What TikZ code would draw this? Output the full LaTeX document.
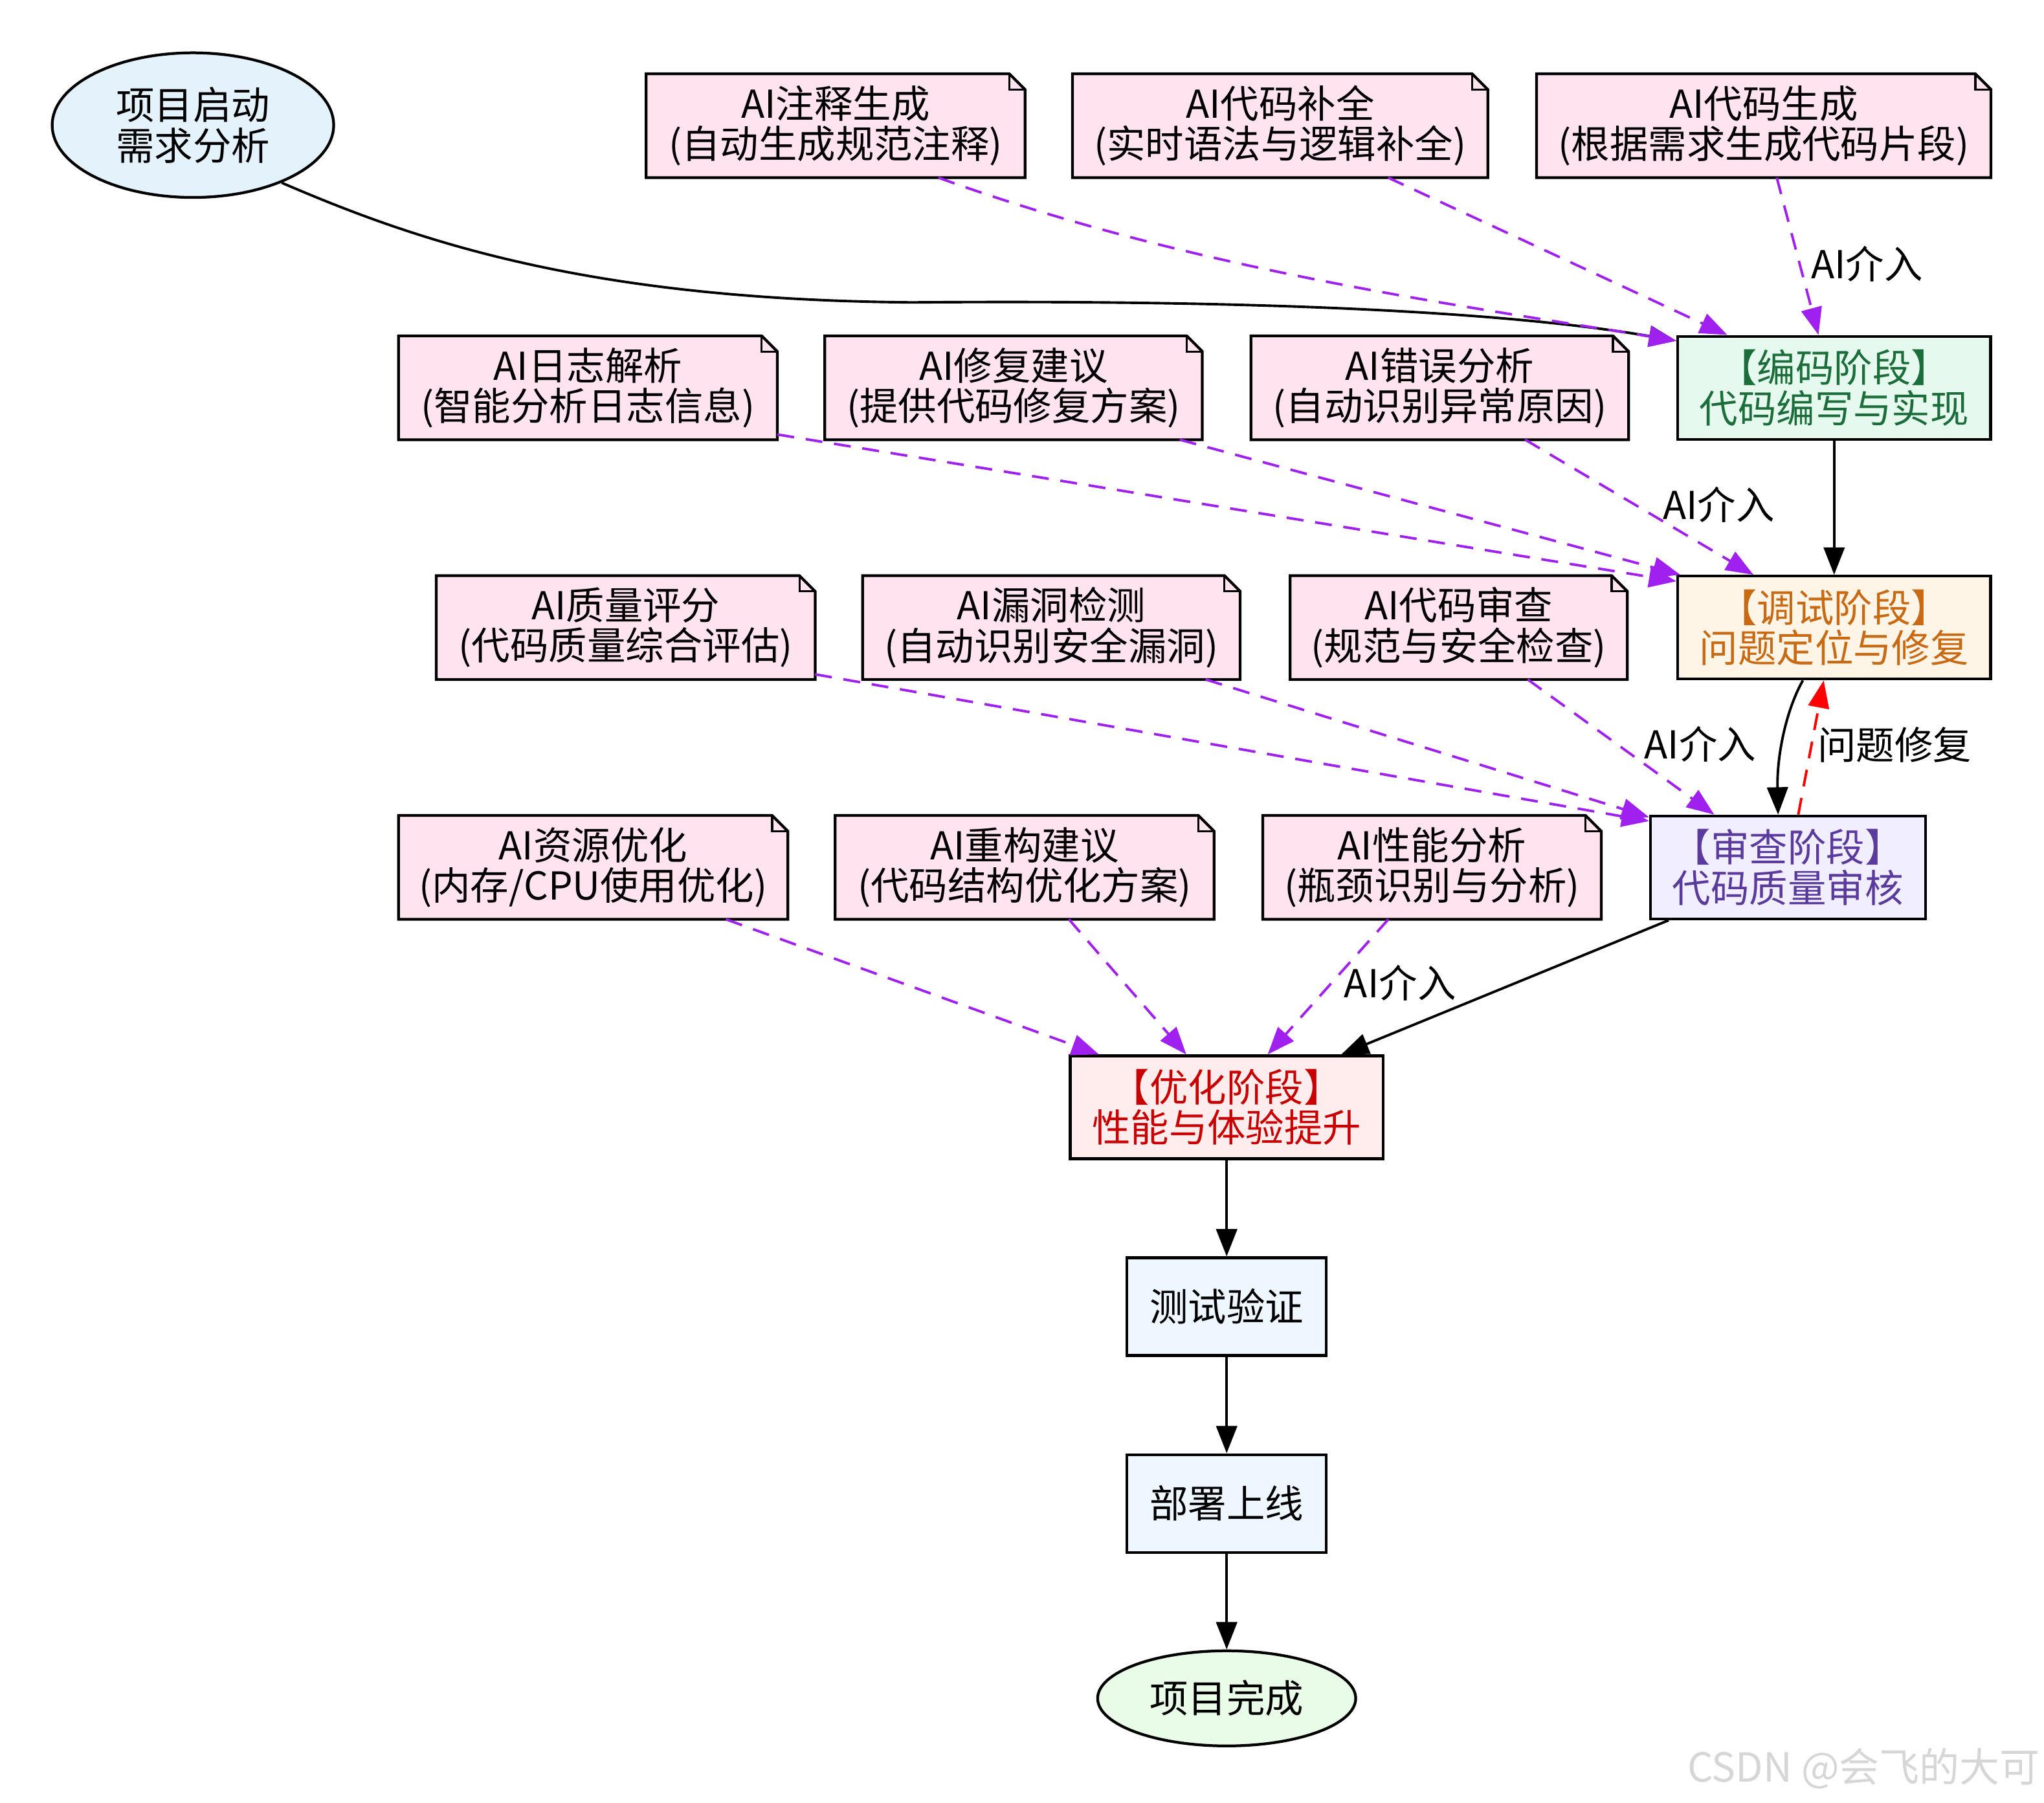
\documentclass[tikz,border=0pt]{standalone}
\usepackage{fontspec}
\setmainfont{Noto Sans CJK SC}
\usepackage{tikz}
\usetikzlibrary{arrows.meta,positioning,shapes.geometric}

\definecolor{notepink}{RGB}{255,228,240}
\definecolor{aipurple}{RGB}{160,32,240}
\definecolor{startblue}{RGB}{228,242,252}
\definecolor{donegreen}{RGB}{232,252,232}
\definecolor{stepfill}{RGB}{238,246,255}
\definecolor{codefill}{RGB}{230,249,238}
\definecolor{codetext}{RGB}{27,110,58}
\definecolor{debugfill}{RGB}{255,245,230}
\definecolor{debugtext}{RGB}{200,105,20}
\definecolor{reviewfill}{RGB}{240,238,255}
\definecolor{reviewtext}{RGB}{91,58,158}
\definecolor{optfill}{RGB}{255,236,236}
\definecolor{opttext}{RGB}{200,0,0}

\begin{document}
\begin{tikzpicture}[x=0.02cm,y=-0.02cm,>={Triangle[length=0.42cm,width=0.32cm]},
  every node/.style={font=\fontsize{16.8pt}{17.6pt}\selectfont,align=center},
  notebox/.style={fill=notepink,minimum width=#1,minimum height=1.58cm,inner sep=0pt},
  phase/.style={draw,line width=1.2pt,minimum width=#1,minimum height=1.58cm,inner sep=0pt},
  terminal/.style={ellipse,draw,line width=1.2pt,inner sep=0pt},
  flow/.style={->,line width=1.1pt},
  ai/.style={->,line width=1.1pt,draw=aipurple,dash pattern=on 0.26cm off 0.18cm},
  lbl/.style={anchor=west,inner sep=1pt,text=black}]
 \useasboundingbox (0,0) rectangle (1568,1383);
 % start and end
 \node[terminal,fill=startblue,minimum width=4.32cm,minimum height=2.22cm] (start) at (148,96) {项目启动\\需求分析};
 \node[terminal,fill=donegreen,minimum width=3.96cm,minimum height=1.46cm] (done) at (941,1303) {项目完成};
 % coding
 \node[notebox=5.8cm] (comm) at (641,96.5) {AI注释生成\\(自动生成规范注释)};
 \node[notebox=6.36cm] (comp) at (982,96.5) {AI代码补全\\(实时语法与逻辑补全)};
 \node[notebox=6.96cm] (gen) at (1353,96.5) {AI代码生成\\(根据需求生成代码片段)};
 \node[phase=4.8cm,fill=codefill,text=codetext] (code) at (1407,297.5) {【编码阶段】\\代码编写与实现};
 % debugging
 \node[notebox=5.8cm] (log) at (451,297.5) {AI日志解析\\(智能分析日志信息)};
 \node[notebox=5.78cm] (fix) at (777.5,297.5) {AI修复建议\\(提供代码修复方案)};
 \node[notebox=5.78cm] (err) at (1104.5,297.5) {AI错误分析\\(自动识别异常原因)};
 \node[phase=4.8cm,fill=debugfill,text=debugtext] (debug) at (1407,481.5) {【调试阶段】\\问题定位与修复};
 % review
 \node[notebox=5.8cm] (score) at (480,481.5) {AI质量评分\\(代码质量综合评估)};
 \node[notebox=5.78cm] (vuln) at (806.5,481.5) {AI漏洞检测\\(自动识别安全漏洞)};
 \node[notebox=5.16cm] (check) at (1119,481.5) {AI代码审查\\(规范与安全检查)};
 \node[phase=4.22cm,fill=reviewfill,text=reviewtext] (review) at (1371.5,665.5) {【审查阶段】\\代码质量审核};
 % optimising
 \node[notebox=5.96cm] (res) at (455,665.5) {AI资源优化\\(内存/CPU使用优化)};
 \node[notebox=5.8cm] (refac) at (786,665.5) {AI重构建议\\(代码结构优化方案)};
 \node[notebox=5.18cm] (perf) at (1098.5,665.5) {AI性能分析\\(瓶颈识别与分析)};
 \node[phase=4.8cm,fill=optfill,text=opttext] (opt) at (941,849.5) {【优化阶段】\\性能与体验提升};
 \node[phase=3.06cm,minimum height=1.5cm,fill=stepfill] (test) at (941,1002.5) {测试验证};
 \node[phase=3.06cm,minimum height=1.5cm,fill=stepfill] (deploy) at (941,1153.5) {部署上线};
 % folded corners of the notes
 \foreach \n in {comm,comp,gen,log,fix,err,score,vuln,check,res,refac,perf} {
   \fill[white] ([xshift=-0.24cm]\n.north east) -- (\n.north east) -- ([yshift=-0.24cm]\n.north east) -- cycle;
   \draw[line width=1.2pt] (\n.north west) -- ([xshift=-0.24cm]\n.north east) -- ([yshift=-0.24cm]\n.north east)
     -- (\n.south east) -- (\n.south west) -- cycle;
   \draw[line width=0.9pt] ([xshift=-0.24cm]\n.north east) |- ([yshift=-0.24cm]\n.north east);
 }
 % main flow
 \draw[flow] (start.-33) .. controls (320,185) and (450,230) .. (700,232)
   .. controls (950,230) and (1150,238) .. ([yshift=-0.09cm]code.north west);
 \draw[flow] (code) -- (debug);
 \draw[flow] ([xshift=-0.48cm]debug.south) .. controls (1370,545) and (1363,580) .. ([xshift=-0.15cm]review.north);
 \draw[->,line width=1.1pt,red,dash pattern=on 0.26cm off 0.18cm] ([xshift=0.16cm]review.north)
   -- node[lbl,pos=0.52,xshift=0.04cm] {问题修复} ([xshift=-0.16cm]debug.south);
 \draw[flow] ([xshift=-1.83cm]review.south) -- ([xshift=1.76cm]opt.north);
 \draw[flow] (opt) -- (test);
 \draw[flow] (test) -- (deploy);
 \draw[flow] (deploy) -- (done);
 % AI help
 \draw[ai] ([xshift=1.58cm]comm.south) .. controls (910,205) and (1098,231) .. ([yshift=-0.09cm]code.north west);
 \draw[ai] ([xshift=1.66cm]comp.south) -- ([xshift=-1.64cm]code.north);
 \draw[ai] ([xshift=0.2cm]gen.south) -- node[lbl,pos=0.55,xshift=0.12cm] {AI介入} ([xshift=-0.24cm]code.north);
 \draw[ai] ([yshift=0.08cm]log.south east) -- ([yshift=-0.1cm]debug.north west);
 \draw[ai] ([xshift=2.55cm]fix.south) -- ([xshift=0.06cm]debug.north west);
 \draw[ai] ([xshift=1.31cm]err.south) -- node[lbl,pos=0.48,xshift=0.38cm] {AI介入} ([xshift=-1.24cm]debug.north);
 \draw[ai] ([yshift=0.08cm]score.south east) -- ([yshift=-0.1cm]review.north west);
 \draw[ai] ([xshift=2.37cm]vuln.south) -- ([yshift=-0.04cm]review.north west);
 \draw[ai] ([xshift=1.06cm]check.south) -- node[lbl,pos=0.48,xshift=0.36cm] {AI介入} ([xshift=-1.13cm]review.north);
 \draw[ai] ([xshift=2.04cm]res.south) -- ([xshift=-1.96cm]opt.north);
 \draw[ai] ([xshift=0.68cm]refac.south) -- ([xshift=-0.62cm]opt.north);
 \draw[ai] ([xshift=-0.67cm]perf.south) -- node[lbl,pos=0.47,xshift=0.14cm] {AI介入} ([xshift=0.63cm]opt.north);
 % watermark
 \node[text=black!16,font=\fontsize{17.5pt}{17.5pt}\selectfont,anchor=east,inner sep=0pt] (mark) at (1565,1357) {CSDN @会飞的大可};
\end{tikzpicture}
\end{document}
